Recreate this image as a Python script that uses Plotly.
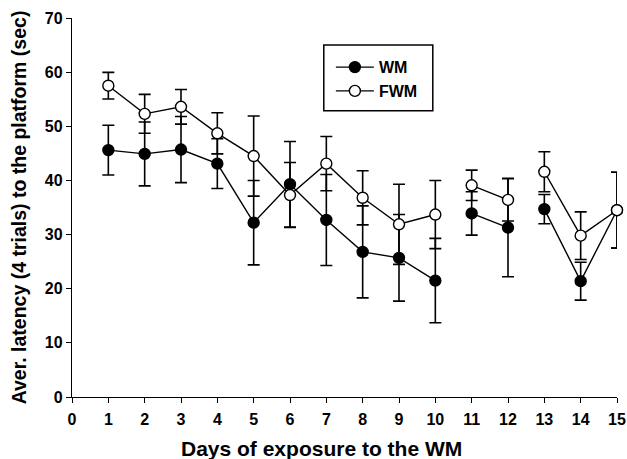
import plotly.graph_objects as go

days = list(range(1, 16))
wm_mean = [45.6, 44.9, 45.7, 43.1, 32.2, 39.3, 32.7, 26.8, 25.7, 21.5, 33.9, 31.3, 34.7, 21.4, 34.5]
wm_err = [4.6, 5.9, 6.1, 4.6, 7.8, 7.9, 8.4, 8.5, 8.0, 7.8, 4.0, 9.1, 2.7, 3.5, 7.0]
fwm_mean = [57.5, 52.3, 53.6, 48.7, 44.5, 37.3, 43.1, 36.8, 31.9, 33.7, 39.1, 36.4, 41.6, 29.8, 34.5]
fwm_err = [2.45, 3.6, 3.2, 3.8, 7.4, 6.0, 5.0, 5.0, 7.4, 6.3, 2.8, 3.9, 3.7, 4.4, 7.0]
segments = [(1, 10), (11, 12), (13, 15)]
x_ticks = list(range(0, 16))
y_ticks = list(range(0, 71, 10))

def segmented(vals):
    xs, ys = [], []
    for a, b in segments:
        for d in range(a, b + 1):
            xs.append(d)
            ys.append(vals[d - 1])
        xs.append(None)
        ys.append(None)
    return xs, ys

FONT = "Liberation Sans, Arial, Helvetica, sans-serif"

fig = go.Figure()
for name, mean, err, fill in [("WM", wm_mean, wm_err, "black"), ("FWM", fwm_mean, fwm_err, "white")]:
    xs, ys = segmented(mean)
    _, es = segmented(err)
    fig.add_trace(go.Scatter(
        x=xs, y=ys, name=name, mode="lines+markers",
        line=dict(color="black", width=1.4),
        marker=dict(size=11, color=fill, line=dict(color="black", width=1.4)),
        error_y=dict(type="data", array=es, visible=True, color="black", thickness=1.6, width=6),
        cliponaxis=False,
    ))

# legend frame
fig.add_shape(type="rect", xref="paper", yref="paper",
              x0=0.462, x1=0.662, y0=0.755, y1=0.929,
              line=dict(color="black", width=1.5), fillcolor="rgba(0,0,0,0)")

# x-axis title (placed slightly left of centre, as in the reference)
fig.add_annotation(text="Days of exposure to the WM", xref="paper", yref="paper",
                   x=0.457, y=-0.135, xanchor="center", yanchor="middle", showarrow=False,
                   font=dict(family=FONT, size=21, weight="bold", color="black"))

fig.update_layout(
    width=627, height=459,
    margin=dict(l=72, r=10, t=18, b=62),
    paper_bgcolor="white", plot_bgcolor="white",
    font=dict(family=FONT, color="black", size=16),
    showlegend=True,
    legend=dict(
        x=0.475, y=0.915, xanchor="left", yanchor="top",
        borderwidth=0, bgcolor="rgba(0,0,0,0)",
        font=dict(family=FONT, size=16, color="black", weight="bold"),
        itemwidth=38, tracegroupgap=0,
    ),
    xaxis=dict(
        range=[0, 15], tickvals=x_ticks, ticktext=[str(t) for t in x_ticks],
        showline=True, linecolor="black", linewidth=1.4, showgrid=False, zeroline=False,
        ticks="outside", ticklen=5, tickwidth=1.4, tickcolor="black",
        tickfont=dict(family=FONT, size=16, weight="bold"),
        automargin=False, ticklabelstandoff=3,
    ),
    yaxis=dict(
        range=[0, 70], tickvals=y_ticks,
        showline=True, linecolor="black", linewidth=1.4, showgrid=False, zeroline=False,
        ticks="outside", ticklen=5, tickwidth=1.4, tickcolor="black",
        tickfont=dict(family=FONT, size=16, weight="bold"),
        automargin=False,
        title=dict(text="Aver. latency (4 trials) to the platform (sec)", font=dict(family=FONT, size=19.5, weight="bold"), standoff=12),
    ),
)

fig.write_html("out.html", config={"displayModeBar": False},
               post_script="document.body.style.margin='0';")
